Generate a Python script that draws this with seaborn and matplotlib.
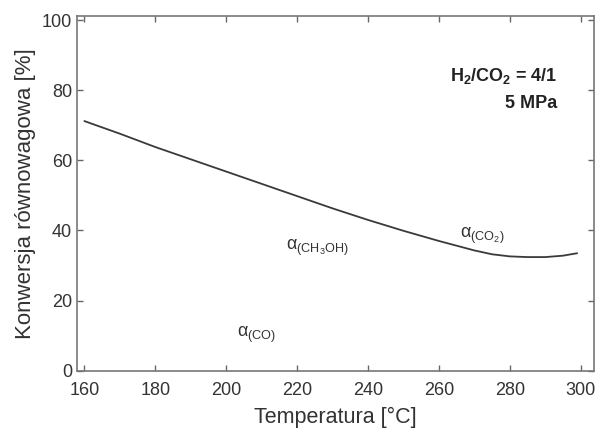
import matplotlib
matplotlib.use("Agg")
import matplotlib.pyplot as plt
import seaborn as sns
import pandas as pd

temperature = [160, 170, 180, 190, 200, 210, 220, 230, 240, 250, 260, 270, 275, 280, 285, 290, 295, 299]
conversion = [71.2, 67.6, 63.8, 60.3, 56.8, 53.3, 49.8, 46.3, 43.0, 39.9, 37.0, 34.3, 33.2, 32.6, 32.4, 32.4, 32.8, 33.5]

xticks = [160, 180, 200, 220, 240, 260, 280, 300]
yticks = [0, 20, 40, 60, 80, 100]

sns.set_style("ticks")
plt.rcParams['font.family'] = ['Liberation Sans', 'DejaVu Sans']
plt.rcParams['mathtext.fontset'] = 'custom'
plt.rcParams['mathtext.rm'] = 'Liberation Sans'
plt.rcParams['mathtext.it'] = 'Liberation Sans:italic'
plt.rcParams['mathtext.bf'] = 'Liberation Sans:bold'

df = pd.DataFrame({"T": temperature, "X": conversion})

fig = plt.figure(figsize=(6.01, 4.30), dpi=100)
ax = fig.add_axes([0.128, 0.138, 0.860, 0.825])
sns.lineplot(data=df, x="T", y="X", ax=ax, color="#3a3a3a", linewidth=1.3)

ax.set_xlim(157.9, 303.7)
ax.set_ylim(0, 101.2)
ax.set_xticks(xticks)
ax.set_yticks(yticks)
ax.tick_params(direction="in", length=4, width=1, colors="#666666",
               labelcolor="#333333", labelsize=13, top=True, right=True)
ax.tick_params(axis="x", pad=8)
for s in ax.spines.values():
    s.set_color("#777777")
    s.set_linewidth(1.2)

ax.set_xlabel("Temperatura [°C]", fontsize=15.5, color="#333333", labelpad=6)
ax.set_ylabel("Konwersja równowagowa [%]", fontsize=16, color="#333333", labelpad=4)

ax.text(0.930, 0.83, r"$\mathbf{H_2/CO_2}$ = 4/1", transform=ax.transAxes,
        ha="right", va="center", fontsize=13, fontweight="bold", color="#222222")
ax.text(0.930, 0.752, "5 MPa", transform=ax.transAxes,
        ha="right", va="center", fontsize=13, fontweight="bold", color="#222222")

ax.text(266.0, 38.5, r"α$_{\mathrm{(CO_2)}}$", fontsize=13, color="#333333", ha="left", va="center")
ax.text(216.8, 35.0, r"α$_{\mathrm{(CH_3OH)}}$", fontsize=13, color="#333333", ha="left", va="center")
ax.text(203.0, 10.3, r"α$_{\mathrm{(CO)}}$", fontsize=13, color="#333333", ha="left", va="center")

fig.savefig("out.png", dpi=100)
